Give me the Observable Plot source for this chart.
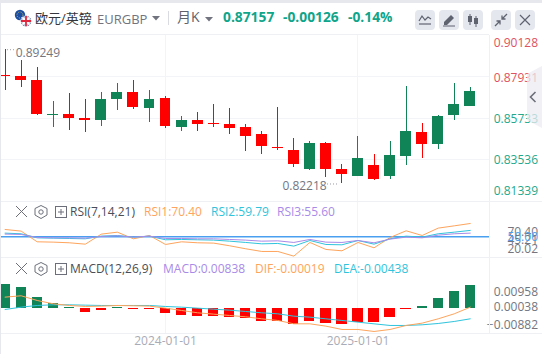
<!DOCTYPE html>
<html lang="zh">
<head>
<meta charset="utf-8">
<script src="https://cdn.jsdelivr.net/npm/d3@7"></script>
<script src="https://cdn.jsdelivr.net/npm/@observablehq/plot@0.6"></script>
<style>
html,body{margin:0;padding:0;background:#fff;overflow:hidden}
#page{position:relative;width:542px;height:354px;overflow:hidden;font-family:"Open Sans","Noto Sans CJK SC",sans-serif;font-size:12px;background:#fff}
.a{position:absolute;white-space:nowrap;line-height:16px}
.pane{position:absolute;left:0}
.pane svg{display:block;overflow:visible;background:transparent!important}
.line{position:absolute;background:#eff0f4}
.btn{position:absolute;top:10px;width:20px;height:20px;border-radius:4px;background:#e5e7ee}
.btn svg,.ic svg{display:block}
.ic{position:absolute}
</style>
</head>
<body>
<div id="page"></div>
<script>
const months = d3.range(30);
const opens  = [0.87984,0.87947,0.87734,0.85868,0.85921,0.85708,0.85602,0.86721,0.87094,0.86241,0.86774,0.85229,0.85602,0.85442,0.85389,0.85229,0.84856,0.84163,0.84003,0.82990,0.84376,0.82990,0.82617,0.83203,0.82617,0.83683,0.84962,0.84323,0.85868,0.86348];
const closes = [0.87931,0.87734,0.85938,0.85921,0.85724,0.85602,0.86721,0.87094,0.86295,0.86721,0.85282,0.85602,0.85389,0.85389,0.85175,0.84749,0.84216,0.84110,0.83257,0.84376,0.82990,0.82723,0.83576,0.82457,0.83736,0.85015,0.84323,0.85815,0.86455,0.87157];
const highs  = [0.89371,0.88800,0.88427,0.86615,0.87041,0.86721,0.87094,0.87574,0.87734,0.87201,0.86881,0.85815,0.86028,0.86455,0.86241,0.85389,0.85015,0.86295,0.84642,0.84482,0.84429,0.83257,0.84749,0.83790,0.84482,0.87414,0.85442,0.85868,0.87574,0.87361];
const lows   = [0.87201,0.87361,0.85868,0.85229,0.85069,0.84962,0.85282,0.86135,0.86188,0.85495,0.85175,0.85015,0.85015,0.85229,0.84856,0.83949,0.83790,0.84003,0.83097,0.82937,0.82564,0.82218,0.82617,0.82404,0.82457,0.83203,0.83576,0.84056,0.85602,0.86348];

const rsi1 = [61.2,58.7,42.3,41.8,40.8,38.7,54.1,57.1,46.9,52,38.2,42.3,40.8,40.3,36.2,31.6,27.5,27.5,20.3,41.3,30.6,28.5,41.3,33.1,48.9,59.2,52,63.3,66.8,70.4];
const rsi2 = [55.6,54.6,48.4,47.9,47.4,46.9,51,52,49.5,51,45.4,45.9,45.4,44.9,43.3,41.3,39.2,39.8,35.7,44.3,38.2,37.7,44.3,38.7,46.9,51,49.5,54.6,57.1,59.79];
const rsi3 = [54.1,53.6,48.9,48.4,48.4,47.9,50.5,51.5,49.5,51,47.4,47.4,46.9,46.9,45.9,44.9,43.3,43.8,41.3,45.9,41.8,41.3,44.3,40.8,46.4,49.5,48.4,52.5,54.6,55.6];

const hist = [0.00874,0.00765,0.00401,0.00194,0.00036,-0.00146,-0.00073,0.00036,-0.00036,-0.00036,-0.00182,-0.00255,-0.00291,-0.00291,-0.00328,-0.00364,-0.00473,-0.00473,-0.00558,-0.00473,-0.00546,-0.00583,-0.0051,-0.0051,-0.00328,-0.00036,0.00073,0.00364,0.00619,0.00838];
const dif  = [0.00421,0.0047,0.00299,0.00178,0.00117,0.00081,0.00093,0.00117,0.00105,0.00093,0.0002,-0.00065,-0.0015,-0.00199,-0.00247,-0.00296,-0.00369,-0.00429,-0.00551,-0.00551,-0.00636,-0.00757,-0.00757,-0.0083,-0.00757,-0.00611,-0.00526,-0.00369,-0.00187,0.00056];
const dea  = [-0.00029,0.00056,0.00117,0.00141,0.00141,0.00129,0.00117,0.00117,0.00117,0.00117,0.00081,0.00056,0.0002,-0.00017,-0.00053,-0.00102,-0.0015,-0.00187,-0.00272,-0.00308,-0.00369,-0.00429,-0.0049,-0.00551,-0.00611,-0.00611,-0.00587,-0.00539,-0.00466,-0.00369];

const priceTicks = [0.90128,0.87931,0.85733,0.83536,0.81339];
const lastPrice = 0.87157;
const macdTicks = [0.00958,0.00038,-0.00882];
const dateIdx = [10,22];
const dateLabels = ["2024-01-01","2025-01-01"];

const RED="#ff0000", GREEN="#108457", UP="#e0525e", DOWN="#1fa88c", GRID="#f3f4f7", TXT="#73767f";
const ORANGE="#ffa45c", CYAN="#2fc4dc", PURPLE="#a88be8", BLUE="#4a9ff0";
const FONT='"Open Sans","Noto Sans CJK SC",sans-serif';
const xs = {type:"linear",domain:[-0.288,30.2],range:[0,489],axis:null};
const candles = months.map(i=>({i,o:opens[i],c:closes[i],h:highs[i],l:lows[i],col:closes[i]<opens[i]?RED:GREEN}));
const fmt5 = d3.format(".5f");
const crisp = {shapeRendering:"crispEdges"};
const vgrid = Plot.ruleX(dateIdx,{stroke:GRID,strokeWidth:1,...crisp});
const lab = (o)=>({x:()=>30.2,textAnchor:"end",dx:48.5,fontSize:12,...o});

function mount(plot,top){
  const d=document.createElement("div");d.className="pane";d.style.top=top+"px";d.appendChild(plot);
  document.getElementById("page").appendChild(d);
}
const base = {width:542,marginLeft:0,marginRight:53,marginTop:0,marginBottom:0,style:{fontFamily:FONT,background:"transparent",overflow:"visible"}};

/* price pane */
const priceColor = d=>d>lastPrice?UP:DOWN;
mount(Plot.plot({...base,height:166,x:xs,
  y:{domain:[0.81339,0.90128],range:[165,0],axis:null},
  marks:[
    vgrid,
    Plot.ruleY(priceTicks.slice(1,4),{stroke:GRID,...crisp}),
    Plot.ruleX(candles,{x:"i",y1:"l",y2:"h",stroke:"col",strokeWidth:1,...crisp}),
    Plot.rect(candles,{x1:d=>d.i-0.34,x2:d=>d.i+0.34,y1:d=>Math.min(d.o,d.c),y2:d=>Math.max(d.o,d.c),fill:"col",...crisp}),
    Plot.text(priceTicks.slice(1,4),lab({y:d=>d,text:fmt5,fill:priceColor,dy:1})),
    Plot.text(priceTicks.slice(0,1),lab({y:d=>d,text:fmt5,fill:priceColor,dy:8})),
    Plot.text(priceTicks.slice(4),lab({y:d=>d,text:fmt5,fill:priceColor,dy:-9})),
    Plot.ruleY([highs[0]],{x1:()=>0.15,x2:()=>0.62,stroke:"#9a9ca6",strokeDasharray:"1 2"}),
    Plot.text(["0.89249"],{x:()=>0.66,y:()=>highs[0],text:d=>d,textAnchor:"start",dy:3,fontSize:12,fill:TXT}),
    Plot.ruleY([lows[21]],{x1:()=>20.1,x2:()=>20.85,stroke:"#9a9ca6",strokeDasharray:"1 2"}),
    Plot.text(["0.82218"],{x:()=>20.05,y:()=>lows[21],text:d=>d,textAnchor:"end",dy:2,fontSize:12,fill:TXT})
  ]}),35);

/* RSI pane */
const rsiRows = k=>months.map(i=>({i,v:k[i]}));
mount(Plot.plot({...base,height:56,x:xs,
  y:{domain:[20,70],range:[54.85,22.25],axis:null},
  marks:[
    vgrid,
    Plot.ruleY([50],{stroke:BLUE,strokeWidth:1.4}),
    Plot.line(rsiRows(rsi1),{x:"i",y:"v",stroke:ORANGE,strokeWidth:1}),
    Plot.line(rsiRows(rsi2),{x:"i",y:"v",stroke:CYAN,strokeWidth:1}),
    Plot.line(rsiRows(rsi3),{x:"i",y:"v",stroke:PURPLE,strokeWidth:1}),
    Plot.text(["70.40"],lab({y:()=>70.4,text:d=>d,fill:TXT,dy:9})),
    Plot.text(["45.21"],lab({y:()=>45.21,text:d=>d,fill:TXT})),
    Plot.text(["20.02"],lab({y:()=>20.02,text:d=>d,fill:TXT,dy:-7})),
    Plot.text(["50.00"],lab({y:()=>50,text:d=>d,fill:BLUE}))
  ]}),201);

/* MACD pane */
const bars = months.map(i=>({i,v:hist[i],col:hist[i]>=0?GREEN:RED}));
const rows = k=>months.map(i=>({i,v:k[i]}));
mount(Plot.plot({...base,height:97,marginBottom:21,x:xs,
  y:{domain:[-0.00882,0.00958],range:[75.4,24.9],axis:null},
  marks:[
    vgrid,
    Plot.rect(bars,{x1:d=>d.i-0.32,x2:d=>d.i+0.32,y1:()=>0,y2:"v",fill:"col",...crisp}),
    Plot.line(rows(dea),{x:"i",y:"v",stroke:CYAN,strokeWidth:1}),
    Plot.line(rows(dif),{x:"i",y:"v",stroke:ORANGE,strokeWidth:1}),
    Plot.text(macdTicks.slice(0,1),lab({y:d=>d,text:fmt5,fill:TXT,dy:10})),
    Plot.text(macdTicks.slice(1,2),lab({y:d=>d,text:fmt5,fill:TXT})),
    Plot.text(macdTicks.slice(2),lab({y:d=>d,text:fmt5,fill:TXT,dy:-8})),
    Plot.axisX({ticks:dateIdx,tickSize:0,tickPadding:3,anchor:"bottom",fontSize:12,color:"#a9acb6",label:null,
      tickFormat:d=>dateLabels[dateIdx.indexOf(d)]})
  ]}),257);

/* chrome */
const page=document.getElementById("page");
function add(html){page.insertAdjacentHTML("beforeend",html);}
function txt(t,x,cy,color,size,extra){add(`<div class="a" style="left:${x}px;top:${cy-8}px;color:${color};font-size:${size}px;${extra||""}">${t}</div>`);}
function ln(x,y,w,h,c){add(`<div class="line" style="left:${x}px;top:${y}px;width:${w}px;height:${h}px;${c?`background:${c}`:""}"></div>`);}
ln(0,0,542,3,"#e6e8ee");ln(0,3,1,351,"#e6e8ee");
ln(1,34,488,1);ln(1,201,541,1);ln(1,257,541,1);ln(1,333,541,1);ln(489,35,1,298);
add(`<div class="ic" style="left:14px;top:9px"><svg width="20" height="20"><circle cx="6" cy="6" r="5.2" fill="#1b4ea3"/><circle cx="6" cy="6" r="3" fill="none" stroke="#f2cf3a" stroke-width=".8" stroke-dasharray="1 1.4"/><circle cx="12" cy="12" r="5.6" fill="#fff"/><clipPath id="c"><circle cx="12" cy="12" r="5.2"/></clipPath><g clip-path="url(#c)"><rect x="6" y="6" width="12" height="12" fill="#2b3f86"/><path d="M6 6L18 18M18 6L6 18" stroke="#fff" stroke-width="2"/><path d="M12 6V18M6 12H18" stroke="#fff" stroke-width="3.4"/><path d="M12 6V18M6 12H18" stroke="#e0263c" stroke-width="1.8"/></g></svg></div>`);
txt("欧元/英镑",35,18,"#33363d",13);
txt("EURGBP",97,19,"#71747e",13);
add(`<div class="ic" style="left:152px;top:16px"><svg width="8" height="5"><path d="M0 0H8L4 4.5Z" fill="#71747e"/></svg></div>`);
ln(168,11,1,14,"#d9dbe2");
txt("月K",177,17,"#5f626b",14);
add(`<div class="ic" style="left:205px;top:17px"><svg width="8" height="5"><path d="M0 0H8L4 4.5Z" fill="#71747e"/></svg></div>`);
const G="#0fa58a";
txt("0.87157",223,17,G,13.8,"font-weight:700");
txt("-0.00126",283,17,G,13.8,"font-weight:700");
txt("-0.14%",348,17,G,13.8,"font-weight:700");
const icons=[
 '<path d="M4 11L7 6L10 10L13 7L16 9" fill="none" stroke="#5f6370" stroke-width="1.2"/><path d="M4 14H16" stroke="#5f6370" stroke-width="1.2"/>',
 '<path d="M5 12L12 5L15 8L8 15H5Z" fill="#5f6370"/><path d="M4 16H16" stroke="#5f6370"/>',
 '<path d="M7 4V15M13 6V17" stroke="#5f6370"/><rect x="5" y="6" width="4" height="6" fill="#5f6370"/><rect x="11" y="8" width="4" height="6" fill="#5f6370"/>',
 '<path d="M16 4L11 9M11 5.500V9H14.500M4 16L9 11M5.500 11H9V14.500" fill="none" stroke="#5f6370" stroke-width="1.3"/>',
 '<path d="M5 5L15 15M15 5L5 15" stroke="#5f6370" stroke-width="1.2"/>'];
[415,439,463,491,515].forEach((x,k)=>add(`<div class="btn" style="left:${x}px"><svg width="20" height="20">${icons[k]}</svg></div>`));
add(`<div class="ic" style="left:527px;top:66px"><svg width="15" height="62"><path d="M15 0V62L0 54V8Z" fill="#ebebf2" fill-opacity=".75"/><path d="M8.500 26L3.500 31L8.500 36" fill="none" stroke="#6c6f7a" stroke-width="1.6"/></svg></div>`);
function tools(cy){
  add(`<div class="ic" style="left:14px;top:${cy-8}px"><svg width="54" height="16"><path d="M2 2L13 13M13 2L2 13" stroke="#6c6f7a" stroke-width="1"/><path d="M27 1.500L33 4.500V11L27 14.500L21 11V4.500Z" fill="none" stroke="#6c6f7a"/><circle cx="27" cy="8" r="2.200" fill="none" stroke="#6c6f7a"/></svg></div>`);
  add(`<div class="ic" style="left:55px;top:${cy-6}px"><svg width="12" height="12"><rect x=".5" y=".5" width="11" height="11" fill="none" stroke="#6c6f7a"/><path d="M6 3V9M3 6H9" stroke="#6c6f7a"/></svg></div>`);
}
tools(212);tools(269);
txt("RSI(7,14,21)",70,212,"#4a4d55",12);
txt("RSI1:70.40",144,212,ORANGE,12);
txt("RSI2:59.79",211,212,CYAN,12);
txt("RSI3:55.60",277,212,PURPLE,12);
txt("MACD(12,26,9)",70,269,"#4a4d55",12);
txt("MACD:0.00838",163,269,PURPLE,12);
txt("DIF:-0.00019",255,269,ORANGE,12);
txt("DEA:-0.00438",334,269,CYAN,12);
</script>
</body>
</html>
